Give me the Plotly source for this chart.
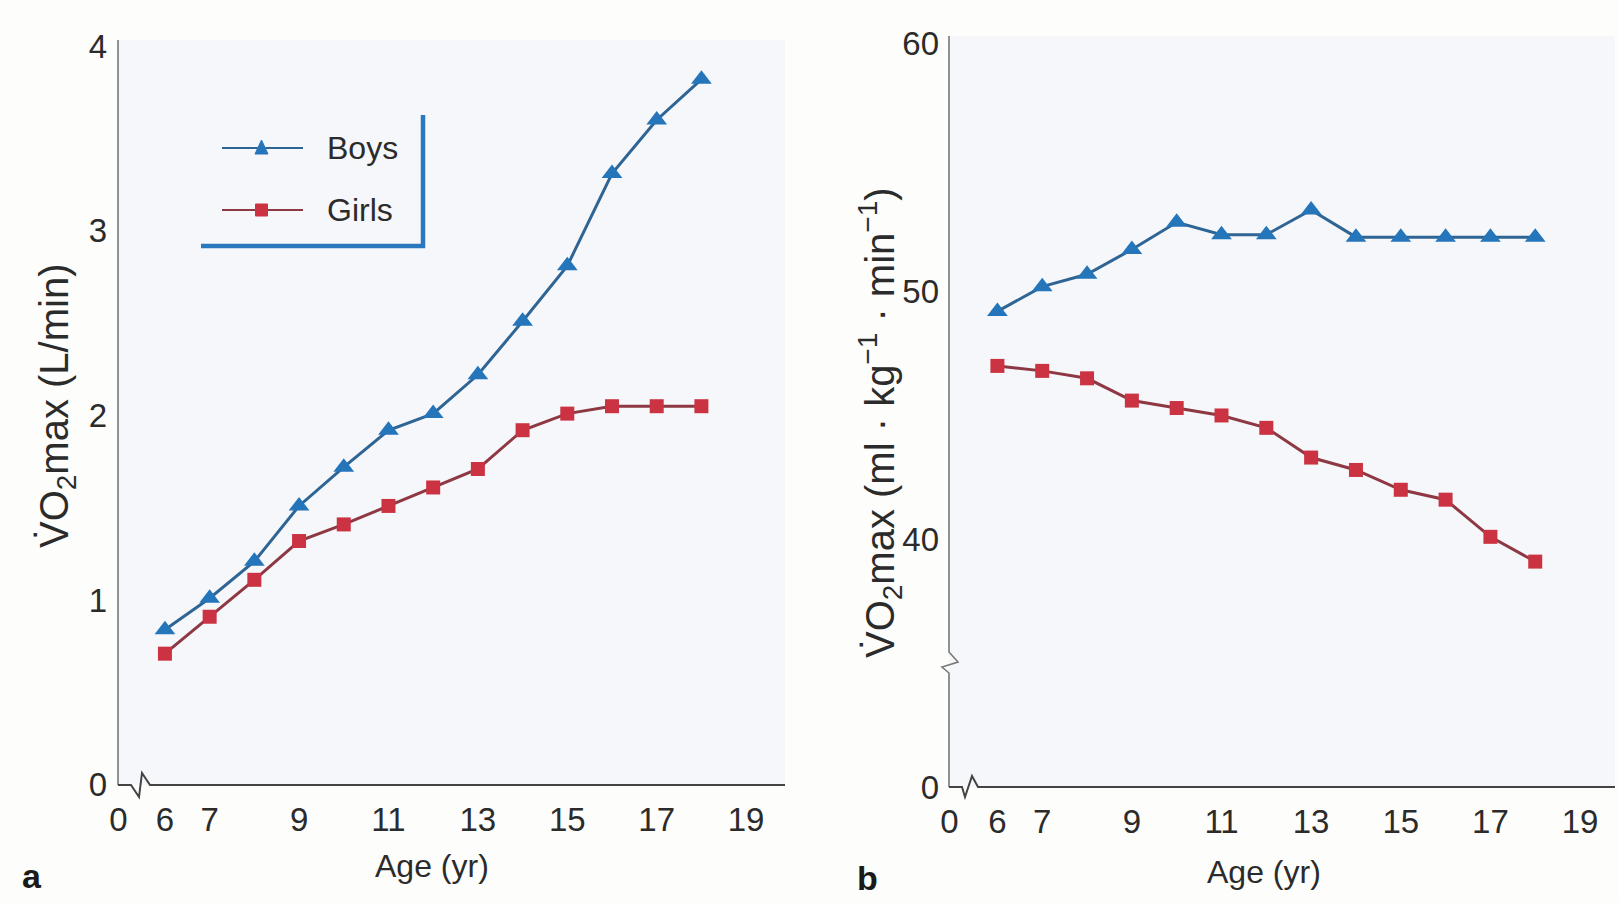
import plotly.graph_objects as go

W, H = 1619, 903

# ---------------- data ----------------
ages = [6, 7, 8, 9, 10, 11, 12, 13, 14, 15, 16, 17, 18]
boys_abs = [0.84, 1.01, 1.21, 1.51, 1.72, 1.92, 2.01, 2.22, 2.51, 2.81, 3.31, 3.60, 3.82]
girls_abs = [0.71, 0.91, 1.11, 1.32, 1.41, 1.51, 1.61, 1.71, 1.92, 2.01, 2.05, 2.05, 2.05]
boys_rel = [49.2, 50.2, 50.7, 51.7, 52.8, 52.3, 52.3, 53.3, 52.2, 52.2, 52.2, 52.2, 52.2]
girls_rel = [47.0, 46.8, 46.5, 45.6, 45.3, 45.0, 44.5, 43.3, 42.8, 42.0, 41.6, 40.1, 39.1]

x_tickvals_a = [4.96, 6, 7, 9, 11, 13, 15, 17, 19]
x_tickvals_b = [4.93, 6, 7, 9, 11, 13, 15, 17, 19]
x_ticktext = ["0", "6", "7", "9", "11", "13", "15", "17", "19"]
y_tickvals_a = [0, 1, 2, 3, 4]
y_ticktext_a = ["0", "1", "2", "3", "4"]
y_tickvals_b = [30, 40, 50, 60]
y_ticktext_b = ["0", "40", "50", "60"]

BOY_LINE, BOY_MARK = "#2f6595", "#2475ba"
GIRL_LINE, GIRL_MARK = "#8e3843", "#cc3342"
AXIS = "#555555"
FONT = "Liberation Sans, Arial, Helvetica, sans-serif"
TXT = "#2b2b2b"


def X(px):
    return px / W


def Y(py):
    return 1 - py / H


fig = go.Figure()

# panel a
fig.add_trace(go.Scatter(x=ages, y=boys_abs, mode="lines+markers", xaxis="x", yaxis="y",
                         line=dict(color=BOY_LINE, width=3),
                         marker=dict(symbol="triangle-up", size=18, color=BOY_MARK),
                         showlegend=False, name="Boys"))
fig.add_trace(go.Scatter(x=ages, y=girls_abs, mode="lines+markers", xaxis="x", yaxis="y",
                         line=dict(color=GIRL_LINE, width=3),
                         marker=dict(symbol="square", size=14, color=GIRL_MARK),
                         showlegend=False, name="Girls"))
# panel b
fig.add_trace(go.Scatter(x=ages, y=boys_rel, mode="lines+markers", xaxis="x2", yaxis="y2",
                         line=dict(color=BOY_LINE, width=3),
                         marker=dict(symbol="triangle-up", size=18, color=BOY_MARK),
                         showlegend=False, name="Boys"))
fig.add_trace(go.Scatter(x=ages, y=girls_rel, mode="lines+markers", xaxis="x2", yaxis="y2",
                         line=dict(color=GIRL_LINE, width=3),
                         marker=dict(symbol="square", size=14, color=GIRL_MARK),
                         showlegend=False, name="Girls"))

tickfont = dict(family=FONT, size=33, color=TXT)
common_x = dict(showgrid=False, zeroline=False, showline=False, ticks="", automargin=False,
                tickfont=tickfont, ticklabelstandoff=12, ticktext=x_ticktext, tickmode="array")
common_y = dict(showgrid=False, zeroline=False, showline=False, ticks="", automargin=False,
                tickfont=tickfont, tickmode="array")

fig.update_layout(
    xaxis=dict(domain=[X(118), X(785)], range=[4.95, 19.87], anchor="y",
               tickvals=x_tickvals_a, **common_x),
    yaxis=dict(domain=[Y(784.8), Y(40)], range=[0, 4.033], anchor="x",
               tickvals=y_tickvals_a, ticktext=y_ticktext_a, ticklabelstandoff=10, **common_y),
    xaxis2=dict(domain=[X(949), X(1615)], range=[4.92, 19.78], anchor="y2",
                tickvals=x_tickvals_b, **common_x),
    yaxis2=dict(domain=[Y(787), Y(36)], range=[30, 60.32], anchor="x2",
                tickvals=y_tickvals_b, ticktext=y_ticktext_b, ticklabelstandoff=9, **common_y),
)

shapes = []


def seg(points, color=AXIS, width=2):
    path = "M " + " L ".join(f"{X(px)},{Y(py)}" for px, py in points)
    shapes.append(dict(type="path", path=path, xref="paper", yref="paper",
                       line=dict(color=color, width=width)))


# panel a axes with break
seg([(118, 40), (118, 785)], color="#777777", width=1.6)
seg([(118, 785), (131, 785), (139, 797), (142, 773), (150, 785), (785, 785)], color="#444444", width=2)
# panel b axes with breaks
seg([(949, 36), (949, 652), (958, 662), (942, 667), (949, 673), (949, 787)], color="#777777", width=1.6)
seg([(949, 787), (962, 787), (965, 797), (972, 776), (978, 787), (1615, 787)], color="#444444", width=2)

# legend frame (blue L)
seg([(201, 246), (423, 246), (423, 115)], color="#2a78bd", width=4.5)
# legend samples
seg([(222, 148), (303, 148)], color=BOY_LINE, width=2.2)
seg([(222, 210), (303, 210)], color=GIRL_LINE, width=2.2)
shapes.append(dict(type="path", xref="paper", yref="paper",
                   path=f"M {X(255)},{Y(154)} L {X(268)},{Y(154)} L {X(261.5)},{Y(140)} Z",
                   fillcolor=BOY_MARK, line=dict(color=BOY_MARK, width=1)))
shapes.append(dict(type="rect", xref="paper", yref="paper",
                   x0=X(255.5), x1=X(267.5), y0=Y(216), y1=Y(204),
                   fillcolor=GIRL_MARK, line=dict(color=GIRL_MARK, width=1)))

annotations = [
    dict(text="Boys", x=X(325), y=Y(148), xanchor="left", yanchor="middle"),
    dict(text="Girls", x=X(325), y=Y(210), xanchor="left", yanchor="middle"),
    dict(text="Age (yr)", x=X(432), y=Y(866), xanchor="center", yanchor="middle"),
    dict(text="Age (yr)", x=X(1264), y=Y(872), xanchor="center", yanchor="middle"),
]
annotations = [dict(a, xref="paper", yref="paper", showarrow=False,
                    font=dict(family=FONT, size=32, color=TXT)) for a in annotations]
annotations += [
    dict(text="V\u0307O<sub>2</sub>max (L/min)", x=X(57), y=Y(406), textangle=-90,
         xanchor="center", yanchor="middle", xref="paper", yref="paper", showarrow=False,
         font=dict(family=FONT, size=40, color=TXT)),
    dict(text="V\u0307O<sub>2</sub>max (ml \u00b7 kg<sup>\u22121</sup> \u00b7 min<sup>\u22121</sup>)",
         x=X(880), y=Y(423), textangle=-90,
         xanchor="center", yanchor="middle", xref="paper", yref="paper", showarrow=False,
         font=dict(family=FONT, size=40, color=TXT)),
    dict(text="<b>a</b>", x=X(32), y=Y(876), xanchor="center", yanchor="middle",
         xref="paper", yref="paper", showarrow=False,
         font=dict(family=FONT, size=34, color="#1a1a1a")),
    dict(text="<b>b</b>", x=X(867), y=Y(878), xanchor="center", yanchor="middle",
         xref="paper", yref="paper", showarrow=False,
         font=dict(family=FONT, size=34, color="#1a1a1a")),
]

fig.update_layout(
    width=W, height=H, autosize=False,
    margin=dict(l=0, r=0, t=0, b=0, pad=0, autoexpand=False),
    paper_bgcolor="#fdfdfb", plot_bgcolor="#f6f7fa",
    shapes=shapes, annotations=annotations, showlegend=False,
    font=dict(family=FONT, color=TXT),
)

fig.write_html("out.html")
